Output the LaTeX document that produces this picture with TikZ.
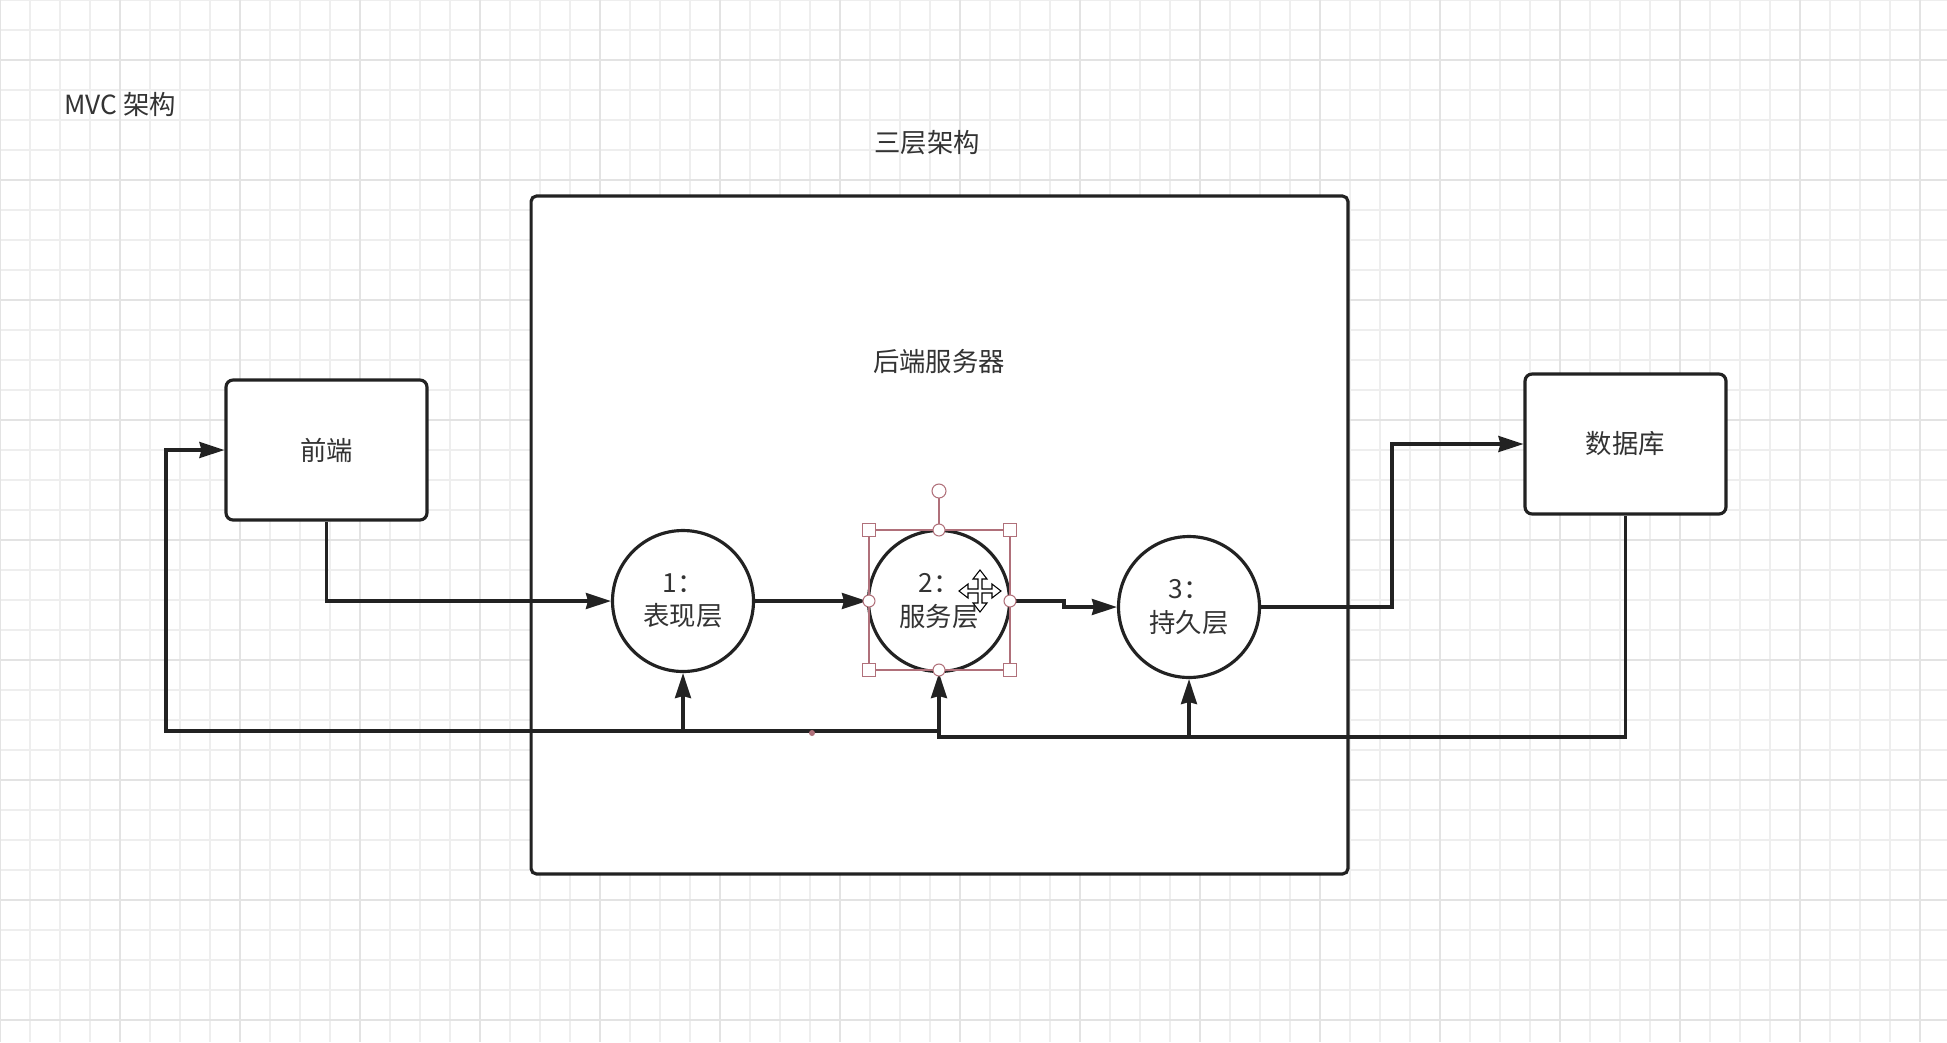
\documentclass[tikz,border=0pt]{standalone}
\usepackage{fontspec}
\setmainfont{Noto Sans CJK SC}
\usetikzlibrary{arrows.meta}
\definecolor{ink}{HTML}{222222}
\definecolor{txt}{HTML}{333333}
\definecolor{gridminor}{HTML}{EEEEEE}
\definecolor{gridmajor}{HTML}{E3E3E3}
\definecolor{sel}{HTML}{B0707A}

\begin{document}
\begin{tikzpicture}[
      x=0.02cm, y=-0.02cm,
      every node/.style={font=\fontsize{15}{19}\selectfont, text=txt},
      box/.style={draw=ink, line width=1.8pt, rounded corners=4pt, fill=white, minimum width=4.02cm, minimum height=2.8cm},
      server/.style={draw=ink, line width=1.8pt, rounded corners=3pt, fill=white, minimum width=16.34cm, minimum height=13.56cm},
      layer/.style={circle, draw=ink, line width=1.8pt, fill=white, minimum size=2.82cm, inner sep=0pt, align=center},
      flow/.style={draw=ink, line width=1.8pt, -{Stealth[length=0.5cm, width=0.32cm, inset=0.04cm]}},
      handle/.style={draw=sel, line width=0.6pt, fill=white}
    ]
    \useasboundingbox (0,0) rectangle (1947,1042);
    \fill[white] (0,0) rectangle (1947,1042);
    % grid
    \foreach \x in {0,30,...,1920} \draw[gridminor, line width=0.8pt] (\x,0) -- (\x,1042);
    \foreach \y in {0,30,...,1020} \draw[gridminor, line width=0.8pt] (0,\y) -- (1947,\y);
    \foreach \x in {0,120,...,1920} \draw[gridmajor, line width=0.9pt] (\x,0) -- (\x,1042);
    \foreach \y in {60,180,...,1020} \draw[gridmajor, line width=0.9pt] (0,\y) -- (1947,\y);

    \node[server] (server) at (939.5,535) {};
    \node (serverlabel) at (939,361) {后端服务器};
    \node[anchor=west] (mvc) at (58,104) {MVC\ 架构};
    \node (three) at (927,143) {三层架构};

    \node[box] (front) at (326.5,450) {前端};
    \node[box] (db) at (1625.5,444) {数据库};

    \coordinate (jog) at (1064,607);
    \coordinate (rise) at (1392,444);
    \coordinate (busR) at (939,737);
    \coordinate (busL) at (939,731);
    \coordinate (loop) at (166,731);

    \node[layer] (c1) at (683,601) {1：\\表现层};
    \node[layer] (c2) at (939,601) {2：\\服务层};
    \node[layer] (c3) at (1189,607) {3：\\持久层};

    \draw[flow] (front.south) |- (c1.west);
    \draw[flow] (c1.east) -- (c2.west);
    \draw[flow] (c2.east) -| (jog) -- (c3.west);
    \draw[flow] (c3.east) -| (rise) -- (db.west);
    \draw[flow] (db.south) |- (busR) -- (c2.south);
    \draw[flow] (c3.south |- busR) -- (c3.south);
    \draw[flow] (busL) -- (loop) |- (front.west);
    \draw[flow] (c1.south |- busL) -- (c1.south);

    % selection handles round the service layer
    \draw[sel, line width=0.6pt] (869,530) rectangle (1010,670);
    \draw[sel, line width=0.6pt] (939,498) -- (939,530);
    \foreach \x/\y in {869/530,1010/530,869/670,1010/670}
      \draw[handle] (\x-6.5,\y-6.5) rectangle (\x+6.5,\y+6.5);
    \foreach \x/\y in {939/530,939/670,869/601,1010/601}
      \draw[handle] (\x,\y) circle (0.12cm);
    \draw[handle] (939,491) circle (0.14cm);
    \fill[sel] (812,733) circle (0.06cm);

    % move cursor
    \begin{scope}[shift={(980,591)}]
      \draw[fill=white, draw=black, line width=0.6pt] (2,-2) -- (12,-2) -- (12,-7) -- (21,0) -- (12,7) -- (12,2) -- (2,2)
        -- (2,12) -- (7,12) -- (0,21) -- (-7,12) -- (-2,12) -- (-2,2)
        -- (-12,2) -- (-12,7) -- (-21,0) -- (-12,-7) -- (-12,-2) -- (-2,-2)
        -- (-2,-12) -- (-7,-12) -- (0,-21) -- (7,-12) -- (2,-12) -- cycle;
    \end{scope}
\end{tikzpicture}
\end{document}
